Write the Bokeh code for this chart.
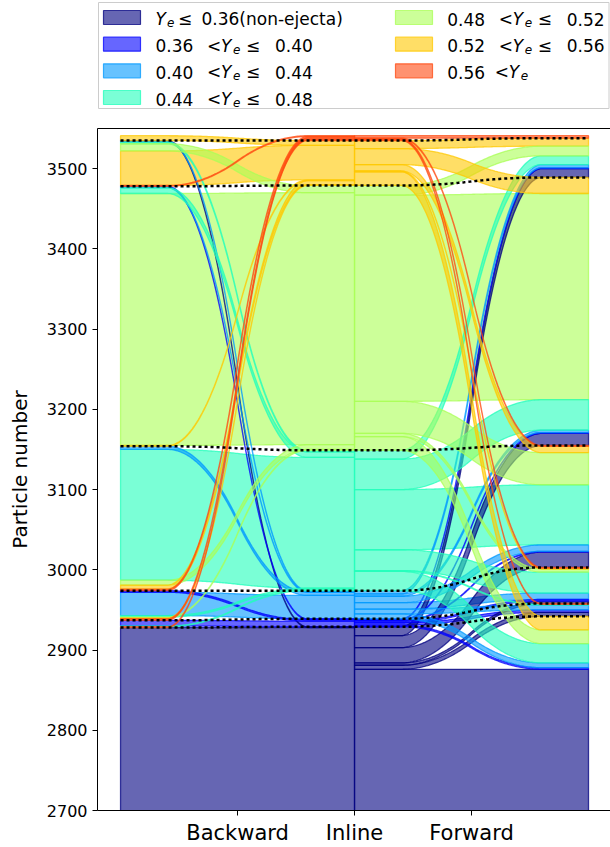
import numpy as np
from bokeh.plotting import figure
from bokeh.models import Range1d, FixedTicker, LinearAxis, ColumnDataSource
from bokeh.layouts import column
from bokeh.embed import file_html
from bokeh.resources import INLINE
from bokeh.core.properties import value

FONT = "DejaVu Sans"

# ---------------- data ----------------
stage_names = ["Backward", "Inline", "Forward"]
stage_ticks = [1, 2, 3]
particle_ticks = [2700, 2800, 2900, 3000, 3100, 3200, 3300, 3400, 3500]

ye_low = [None, 0.36, 0.40, 0.44, 0.48, 0.52, 0.56]
ye_high = [0.36, 0.40, 0.44, 0.48, 0.52, 0.56, None]
cat_colors = ["#000080", "#0000ff", "#0099ff", "#22ffbb", "#aaff55", "#ffc800", "#ff4a10"]

# particles moving from backward Ye bin (rows) to inline Ye bin (columns)
flow_backward_inline = [
    [2928, 0, 0, 0, 0, 0, 0],
    [0, 7, 0, 1, 0, 0, 1],
    [0, 2, 29, 2, 1, 1, 2],
    [0, 0, 4, 163, 6, 5, 2],
    [0, 1, 1, 7, 314, 1, 0],
    [1, 0, 1, 2, 9, 43, 1],
    [0, 0, 0, 0, 0, 6, 0],
]
# particles moving from inline Ye bin (rows) to forward Ye bin (columns)
flow_inline_forward = [
    [2876, 5, 3, 19, 15, 11, 0],
    [2, 3, 2, 1, 1, 1, 0],
    [6, 6, 8, 8, 3, 4, 0],
    [24, 1, 26, 75, 38, 11, 0],
    [17, 0, 4, 40, 257, 12, 0],
    [17, 0, 1, 8, 20, 10, 0],
    [0, 1, 1, 1, 0, 0, 3],
]

# ---------------- geometry ----------------
F1 = np.array(flow_backward_inline, dtype=float)
F2 = np.array(flow_inline_forward, dtype=float)
ncat = len(cat_colors)
backward_tot = F1.sum(axis=1)
inline_tot = F1.sum(axis=0)
forward_tot = F2.sum(axis=0)

X_BACK, X_INL, X_FWD = 0.0, 2.0, 4.0
t = np.linspace(0.0, 1.0, 161)


def s_curve(y0, y1):
    u = np.clip((t - 0.2) / 0.6, 0.0, 1.0)
    s = np.where(u < 0.5, 2.0 * u * u, 1.0 - 2.0 * (1.0 - u) ** 2)
    return y0 + (y1 - y0) * s


def stack_flows(F, src_tot, tgt_tot, src_desc):
    src_base = np.concatenate([[0.0], np.cumsum(src_tot)[:-1]])
    tgt_base = np.concatenate([[0.0], np.cumsum(tgt_tot)[:-1]])
    src_pos, tgt_pos = {}, {}
    for i in range(ncat):
        y = src_base[i]
        order = range(ncat - 1, -1, -1) if src_desc else range(ncat)
        for j in order:
            src_pos[(i, j)] = y
            y += F[i, j]
    for j in range(ncat):
        y = tgt_base[j]
        for i in range(ncat):
            tgt_pos[(i, j)] = y
            y += F[i, j]
    return src_pos, tgt_pos


def band_polys(F, src_tot, tgt_tot, src_desc, x0, x1, color_by_target):
    src_pos, tgt_pos = stack_flows(F, src_tot, tgt_tot, src_desc)
    items = []
    for i in range(ncat):
        for j in range(ncat):
            c = F[i, j]
            if c <= 0:
                continue
            cidx = j if color_by_target else i
            items.append((0 if i == j else 1, cidx, i, j, c))
    items.sort(key=lambda it: (it[0], it[1]))
    xc = x0 + (x1 - x0) * t
    xs, ys, cols = [], [], []
    for _, cidx, i, j, c in items:
        lo = s_curve(src_pos[(i, j)], tgt_pos[(i, j)])
        hi = lo + c
        xs.append(np.concatenate([xc, xc[::-1]]).tolist())
        ys.append(np.concatenate([lo, hi[::-1]]).tolist())
        cols.append(cat_colors[cidx])
    return xs, ys, cols


xs1, ys1, c1 = band_polys(F1, backward_tot, inline_tot, True, X_BACK, X_INL, True)
xs2, ys2, c2 = band_polys(F2, inline_tot, forward_tot, False, X_INL, X_FWD, False)

# ---------------- main figure ----------------
p = figure(width=610, height=729, x_range=Range1d(-0.197, 4.188),
           y_range=Range1d(2700, 3550), output_backend="svg",
           toolbar_location=None, min_border_left=97, min_border_right=0,
           min_border_top=10, min_border_bottom=35)
p.xgrid.visible = False
p.ygrid.visible = False
p.outline_line_color = None
p.background_fill_color = "white"

src = ColumnDataSource(dict(xs=xs1 + xs2, ys=ys1 + ys2, color=c1 + c2))
p.patches(xs="xs", ys="ys", fill_color="color", line_color="color",
          fill_alpha=0.6, line_alpha=0.75, line_width=1.3, source=src)

cum_b = np.cumsum(backward_tot)[:-1]
cum_i = np.cumsum(inline_tot)[:-1]
cum_f = np.cumsum(forward_tot)[:-1]
lx, ly = [], []
for k in range(ncat - 1):
    lx.append((X_BACK + (X_INL - X_BACK) * t).tolist())
    ly.append(s_curve(cum_b[k], cum_i[k]).tolist())
    lx.append((X_INL + (X_FWD - X_INL) * t).tolist())
    ly.append(s_curve(cum_i[k], cum_f[k]).tolist())
p.multi_line(xs=lx, ys=ly, line_color="black", line_width=2.5, line_dash="3 3")

p.xaxis.ticker = FixedTicker(ticks=stage_ticks)
p.xaxis.major_label_overrides = {k: v for k, v in zip(stage_ticks, stage_names)}
p.yaxis.ticker = FixedTicker(ticks=particle_ticks)
for ax in (p.xaxis[0], p.yaxis[0]):
    ax.minor_tick_line_color = None
    ax.major_tick_in = 0
    ax.major_tick_out = 5
    ax.axis_line_color = "black"
    ax.major_tick_line_color = "black"
    ax.major_label_text_font = FONT
    ax.major_label_text_color = "black"
p.xaxis.major_label_text_font_size = "21px"
p.yaxis.major_label_text_font_size = "16px"
p.yaxis.axis_label = "Particle number"
p.yaxis.axis_label_text_font = FONT
p.yaxis.axis_label_text_font_size = "20px"
p.yaxis.axis_label_text_font_style = "normal"
p.yaxis.axis_label_text_color = "black"
p.yaxis.axis_label_standoff = 12

top = LinearAxis(ticker=FixedTicker(ticks=[]), major_tick_line_color=None,
                 minor_tick_line_color=None, major_label_text_font_size="0px",
                 axis_line_color="black")
p.add_layout(top, "above")

# ---------------- legend figure ----------------
LH = 118
lg = figure(width=610, height=LH, x_range=Range1d(97, 610), y_range=Range1d(LH, 0),
            output_backend="svg", toolbar_location=None, x_axis_type=None,
            y_axis_type=None, min_border=0, min_border_left=97, min_border_right=0)
lg.outline_line_color = None
lg.xgrid.visible = False
lg.ygrid.visible = False
lg.quad(left=98, right=608.5, top=2, bottom=108, fill_color="white",
        line_color="#cccccc", line_width=1)

row_c = [17.0, 43.7, 70.3, 97.0]
patch_x = [103.0, 395.0]
text_x = [155.0, 446.7]
sw_l, sw_r, sw_t, sw_b, sw_c = [], [], [], [], []
tx, ty, tt, tsz, tst = [], [], [], [], []


def piece(x, y, s, size="17px", style="normal"):
    tx.append(x); ty.append(y); tt.append(s); tsz.append(size); tst.append(style)


for k in range(ncat):
    col, row = k // 4, k % 4
    yc = row_c[row]
    sw_l.append(patch_x[col]); sw_r.append(patch_x[col] + 37)
    sw_t.append(yc - 7); sw_b.append(yc + 7); sw_c.append(cat_colors[k])
    x0 = text_x[col]
    yb = yc + 1.5
    if ye_low[k] is None:
        piece(x0, yb, "Y", style="italic")
        piece(x0 + 11.5, yb + 3.5, "e", "12px", "italic")
        piece(x0 + 22.5, yb, "\u2264")
        piece(x0 + 46, yb, f"{ye_high[k]:.2f}(non-ejecta)")
    elif ye_high[k] is None:
        piece(x0, yb, f"{ye_low[k]:.2f}")
        piece(x0 + 47.5, yb, "<")
        piece(x0 + 61.5, yb, "Y", style="italic")
        piece(x0 + 73.5, yb + 3.5, "e", "12px", "italic")
    else:
        piece(x0, yb, f"{ye_low[k]:.2f}")
        piece(x0 + 51.5, yb, "<")
        piece(x0 + 65.5, yb, "Y", style="italic")
        piece(x0 + 77.5, yb + 3.5, "e", "12px", "italic")
        piece(x0 + 90.5, yb, "\u2264")
        piece(x0 + 119.5, yb, f"{ye_high[k]:.2f}")

lg.quad(left=sw_l, right=sw_r, top=sw_t, bottom=sw_b, fill_color=sw_c,
        fill_alpha=0.6, line_color=sw_c, line_alpha=0.75, line_width=1.2)
lsrc = ColumnDataSource(dict(x=tx, y=ty, text=tt, size=tsz, style=tst))
lg.text(x="x", y="y", text="text", text_font_size="size", text_font_style="style",
        text_font=value(FONT), text_baseline="alphabetic", text_align="left",
        text_color="black", source=lsrc)

layout = column(lg, p, spacing=0)
open("out.html", "w").write(file_html(layout, INLINE))
